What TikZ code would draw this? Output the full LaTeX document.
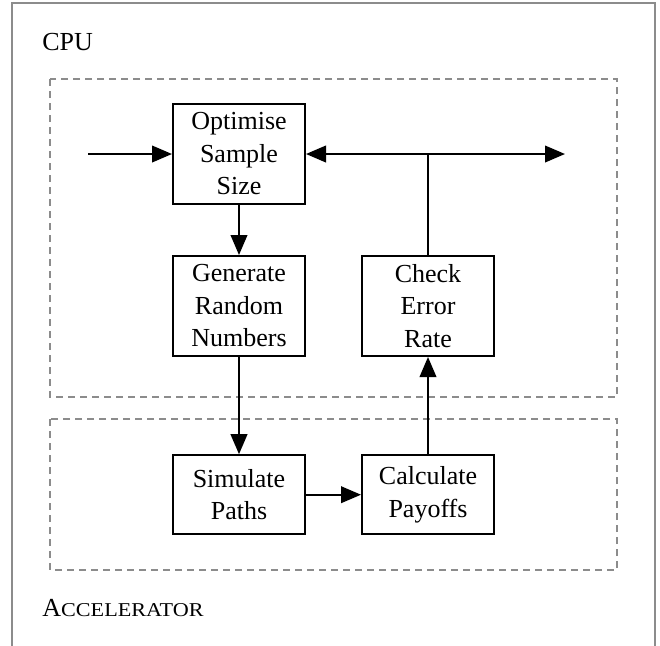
\documentclass[tikz,border=0pt]{standalone}
\usepackage{graphicx}
\usepackage{fontspec}
\setmainfont{Liberation Serif}
\usetikzlibrary{arrows.meta}
\definecolor{framegray}{RGB}{140,140,140}
\tikzstyle{block} = [rectangle, minimum width=66pt, minimum height=50pt, inner sep=0pt, align=center, draw=black, line width=1pt]
\tikzstyle{shortblock} = [block, minimum height=39.5pt]
\tikzstyle{region} = [draw=framegray, line width=0.75pt, dash pattern=on 3.5pt off 2.5pt]
\tikzstyle{label} = [anchor=base west, inner sep=0pt]
\tikzstyle{arrow} = [line width=1pt, -{Triangle[length=10pt, width=8.3pt]}]

\begin{document}
\begin{tikzpicture}[node distance=76pt, x=0.5pt, y=-0.5pt, font=\fontsize{13}{16.25}\selectfont]
    \useasboundingbox (0,0) rectangle (660,645);

    \draw [framegray, line width=0.9pt] (12,650) -- (12,3) -- (655,3) -- (655,650);
    \draw [region] (50,79) rectangle (617,397);
    \draw [region] (50,419) rectangle (617,570);

    \node (cpu) [label] at (42,50) {CPU};
    \node (acc) [label] at (42,616.7) {A\scalebox{1.13}[1]{\fontsize{9.8}{12}\selectfont CCELERATOR}};

    \node (opt) [block] at (239,154) {Optimise\\Sample\\Size};
    \node (gen) [block, below of=opt] {Generate\\Random\\Numbers};
    \node (chk) [block, right of=gen, xshift=18.5pt] {Check\\Error\\Rate};
    \node (sim) [shortblock, below of=gen, yshift=-18.35pt] {Simulate\\Paths};
    \node (calc) [shortblock, right of=sim, xshift=18.5pt] {Calculate\\Payoffs};

    \coordinate (in) at (88,154);
    \coordinate (out) at (565,154);

    \draw [arrow] (in) -- (opt);
    \draw [arrow] (opt) -- (gen);
    \draw [arrow] (gen) -- (sim);
    \draw [arrow] (sim) -- (calc);
    \draw [arrow] (calc) -- (chk);
    \draw [line width=1pt] (chk) -- (chk |- opt);
    \draw [arrow, {Triangle[length=10pt, width=8.3pt]}-{Triangle[length=10pt, width=8.3pt]}] (opt) -- (out);

\end{tikzpicture}
\end{document}
